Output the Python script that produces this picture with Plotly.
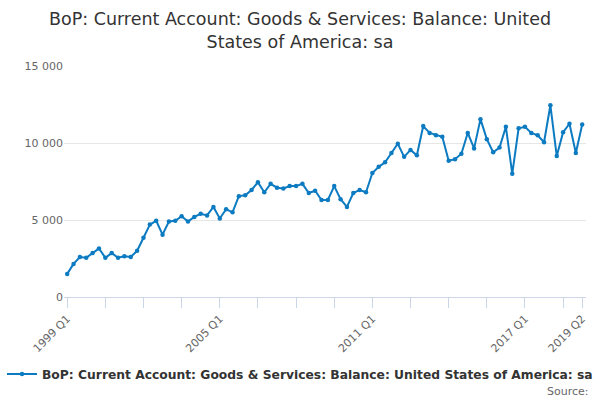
import plotly.graph_objects as go

# Quarterly periods, 1999 Q1 .. 2019 Q2
quarters = [f"{y} Q{q}" for y in range(1999, 2020) for q in range(1, 5)][:82]

# Balance, £ million
balance = [
    1500, 2150, 2600, 2550, 2850, 3150, 2550, 2850, 2550, 2650, 2600, 3000,
    3850, 4700, 4950, 4050, 4900, 4950, 5250, 4900, 5200, 5400, 5300, 5850,
    5100, 5700, 5500, 6550, 6600, 6950, 7450, 6800, 7350, 7100, 7050, 7200,
    7200, 7350, 6750, 6900, 6300, 6300, 7200, 6350, 5850, 6750, 6950, 6800,
    8050, 8450, 8750, 9350, 9950, 9100, 9550, 9200, 11100, 10650, 10500, 10400,
    8850, 8950, 9300, 10650, 9650, 11550, 10250, 9400, 9700, 11050, 8000, 10950,
    11050, 10650, 10500, 10050, 12450, 9150, 10700, 11250, 9350, 11200,
]

tick_vals = quarters[0:81:6] + [quarters[81]]
tick_text = ["1999 Q1", "", "", "", "2005 Q1", "", "", "", "2011 Q1",
             "", "", "", "2017 Q1", "", "2019 Q2"]

series_name = "BoP: Current Account: Goods & Services: Balance: United States of America: sa"

fig = go.Figure()
fig.add_trace(go.Scatter(
    x=quarters,
    y=balance,
    mode="lines+markers",
    line=dict(color="#0d7bc1", width=2),
    marker=dict(color="#0d7bc1", size=4.5),
    name=series_name,
))

fig.update_layout(
    width=600,
    height=400,
    font=dict(family="DejaVu Sans", color="#666666", size=11),
    title=dict(
        text="BoP: Current Account: Goods & Services: Balance: United<br>States of America: sa",
        x=0.5, xanchor="center", yref="container", y=0.9375, yanchor="top",
        font=dict(size=17.5, color="#333333"),
    ),
    separators=". ",
    plot_bgcolor="white",
    paper_bgcolor="white",
    margin=dict(l=64, r=14, t=66, b=103, autoexpand=False),
    showlegend=True,
    legend=dict(
        orientation="h", xref="container", x=0.5, xanchor="center",
        yref="container", y=0.065, yanchor="middle",
        itemwidth=30,
        font=dict(size=12.3, color="#333333", weight="bold"),
    ),
    annotations=[dict(
        text="Source:", xref="paper", yref="paper", x=1.0096, y=-0.41,
        xanchor="right", yanchor="middle", showarrow=False,
        font=dict(size=11, color="#666666"),
    )],
)

fig.update_xaxes(
    type="category",
    range=[-0.5, 81.6],
    automargin=False,
    tickmode="array",
    tickvals=tick_vals,
    ticktext=tick_text,
    tickangle=-45,
    ticks="outside",
    ticklen=10,
    tickcolor="#ccd6eb",
    showline=True,
    linecolor="#ccd6eb",
    showgrid=False,
    tickfont=dict(size=11, color="#666666"),
)

fig.update_yaxes(
    range=[0, 15000],
    automargin=False,
    tickvals=[0, 5000, 10000, 15000],
    tickformat=",d",
    showgrid=True,
    gridcolor="#e6e6e6",
    zeroline=False,
    showline=False,
    tickfont=dict(size=11, color="#666666"),
)

# drop the default page margin so the 600x400 figure sits at the top-left corner
fig.write_html("out.html", config={"displayModeBar": False},
               post_script="document.body.style.margin='0';")
